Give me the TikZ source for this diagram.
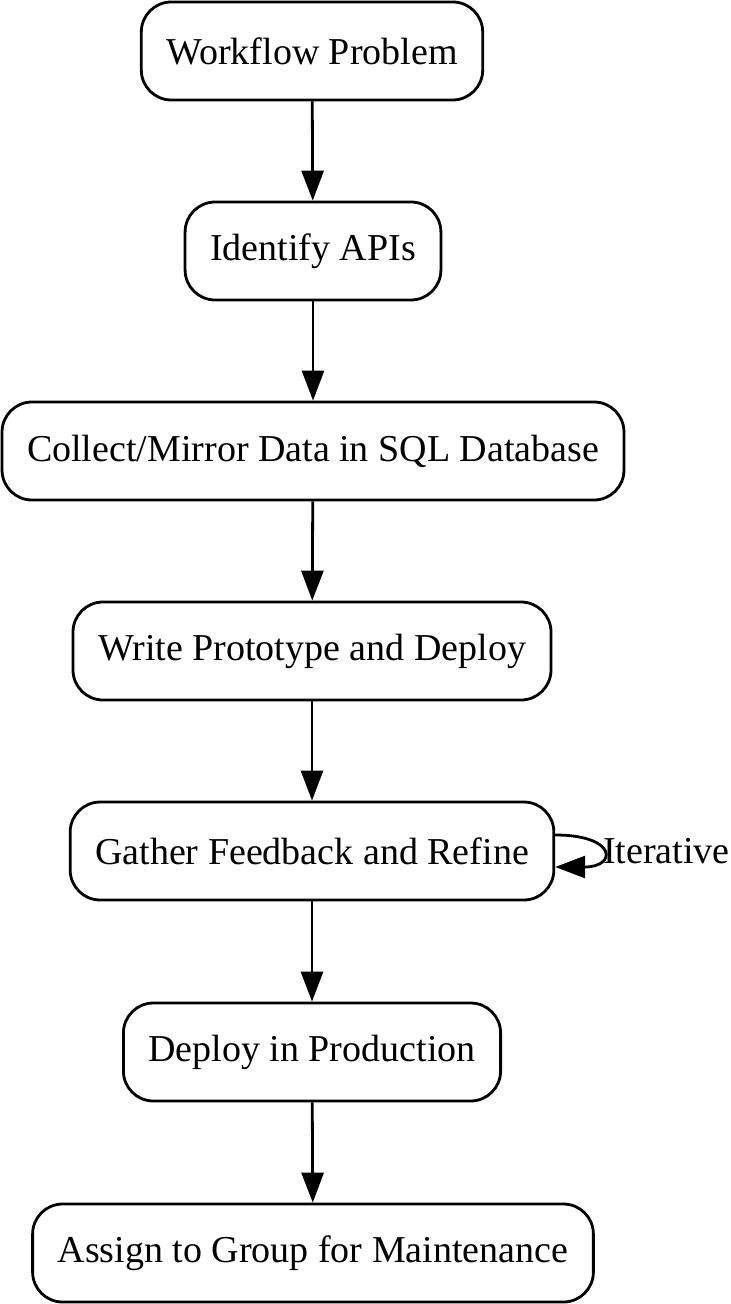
\documentclass[tikz,border=0pt]{standalone}
\usepackage{fontspec}
\setmainfont{Liberation Serif}
\usetikzlibrary{arrows.meta}
\tikzset{
  stepbox/.style={draw, line width=1.4pt, rounded corners=15pt, minimum height=49pt, inner xsep=12.5pt, font=\fontsize{19}{22}\selectfont},
  flow/.style={line width=1.4pt, -{Triangle[length=15pt,width=11pt]}}
}
\begin{document}
\begin{tikzpicture}[x=0.5pt,y=-0.5pt]
\useasboundingbox (0,0) rectangle (730,1304);
\node[stepbox] (problem) at (312,51) {Workflow Problem};
\node[stepbox] (apis) at (313,251) {Identify APIs};
\node[stepbox] (collect) at (313,451) {Collect/Mirror Data in SQL Database};
\node[stepbox] (prototype) at (312,651) {Write Prototype and Deploy};
\node[stepbox] (feedback) at (312,851) {Gather Feedback and Refine};
\node[stepbox] (production) at (312,1052) {Deploy in Production};
\node[stepbox] (assign) at (313,1253) {Assign to Group for Maintenance};
\draw[flow] (problem) -- (apis);
\draw[flow] (apis) -- (collect);
\draw[flow] (collect) -- (prototype);
\draw[flow] (prototype) -- (feedback);
\draw[flow] (feedback) -- (production);
\draw[flow] (production) -- (assign);
% self loop
\draw[flow] ([yshift=8pt]feedback.east) .. controls +(31pt,0) and +(31pt,0) .. ([yshift=-8pt]feedback.east)
  node[pos=0.5, right, inner xsep=0pt, font=\fontsize{19}{22}\selectfont] {Iterative};
\end{tikzpicture}
\end{document}
